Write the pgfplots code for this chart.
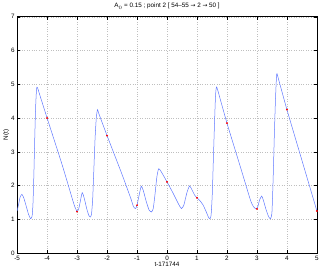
\documentclass[border=0pt]{standalone}
\usepackage{pgfplots}
\pgfplotsset{compat=1.18}
\usepackage{fontspec}
\setmainfont{Liberation Sans}
\newfontfamily\dv{DejaVu Sans}
\definecolor{lineblue}{RGB}{95,120,255}
\begin{document}
\begin{tikzpicture}
\begin{axis}[
  scale only axis,
  width=298bp, height=235bp,
  xmin=-5, xmax=5, ymin=0, ymax=7,
  xtick={-5,...,5}, ytick={0,...,7},
  tick align=inside,
  major tick length=3pt,
  xtick pos=both, ytick pos=both,
  grid=major,
  grid style={dotted, gray!50, line width=0.4pt},
  axis line style={line width=0.6pt},
  tick style={black, line width=0.4pt},
  /pgf/number format/assume math mode=true,
  tick label style={font=\fontsize{6.3}{7}\selectfont},
  xticklabel style={yshift=1pt},
  yticklabel style={xshift=1pt},
  xlabel={t-171744},
  ylabel={N(t)},
  label style={font=\fontsize{6.3}{7}\selectfont},
  xlabel style={yshift=5pt},
  ylabel style={yshift=-5pt},
  title={A$_0$ = 0.15 ; point 2 [ 54\textendash55 {\dv\fontsize{5.8}{7}\selectfont →} 2 {\dv\fontsize{5.8}{7}\selectfont →} 50 ]},
  title style={font=\fontsize{6.3}{7}\selectfont, yshift=-2pt},
]
\addplot[color=lineblue, line width=0.5pt, smooth, tension=0.35] coordinates {
(-5,1.25) (-4.95,1.45) (-4.9,1.66) (-4.84,1.74) (-4.78,1.64) (-4.7,1.40) (-4.62,1.15)
(-4.55,1.02) (-4.5,1.1) (-4.47,1.5) (-4.44,2.4) (-4.41,3.5) (-4.38,4.4) (-4.35,4.88)
(-4.32,4.9) (-4.25,4.7) (-4,4.0) (-3.5,2.62) (-3.15,1.58) (-3.07,1.36) (-3.0,1.24)
(-2.95,1.3) (-2.9,1.5) (-2.83,1.79) (-2.76,1.62) (-2.68,1.32) (-2.61,1.12) (-2.56,1.07)
(-2.52,1.15) (-2.48,1.6) (-2.44,2.5) (-2.4,3.4) (-2.36,4.0) (-2.32,4.25) (-2.27,4.12)
(-2,3.48) (-1.5,2.33) (-1.2,1.6) (-1.12,1.38) (-1.05,1.32) (-1.0,1.42) (-0.93,1.72)
(-0.86,1.98) (-0.79,1.85) (-0.7,1.55) (-0.6,1.28) (-0.52,1.22) (-0.46,1.32) (-0.4,1.75)
(-0.34,2.25) (-0.28,2.5) (-0.2,2.42) (0,2.11) (0.2,1.78) (0.38,1.46) (0.48,1.32)
(0.56,1.42) (0.66,1.78) (0.75,1.99) (0.83,1.88) (0.92,1.72) (1,1.64) (1.1,1.55)
(1.2,1.43) (1.3,1.24) (1.38,1.07) (1.43,1.02) (1.47,1.12) (1.51,1.75) (1.55,2.9)
(1.59,4.0) (1.62,4.7) (1.65,4.92) (1.7,4.8) (2,3.85) (2.5,2.4) (2.78,1.58) (2.88,1.38)
(2.97,1.31) (3.03,1.38) (3.09,1.58) (3.16,1.69) (3.22,1.55) (3.3,1.3) (3.39,1.08)
(3.45,1.02) (3.5,1.2) (3.54,2.2) (3.58,3.5) (3.62,4.6) (3.66,5.3) (3.72,5.15)
(4,4.25) (4.5,2.75) (5,1.25)
};
\addplot[only marks, mark=*, mark size=0.7pt, color=red] coordinates {
(-4,4.0) (-3,1.23) (-2,3.48) (-1,1.42) (0,2.11) (1,1.64) (2,3.85) (3,1.31) (4,4.25) (5,1.25)
};
\end{axis}
\end{tikzpicture}
\end{document}
